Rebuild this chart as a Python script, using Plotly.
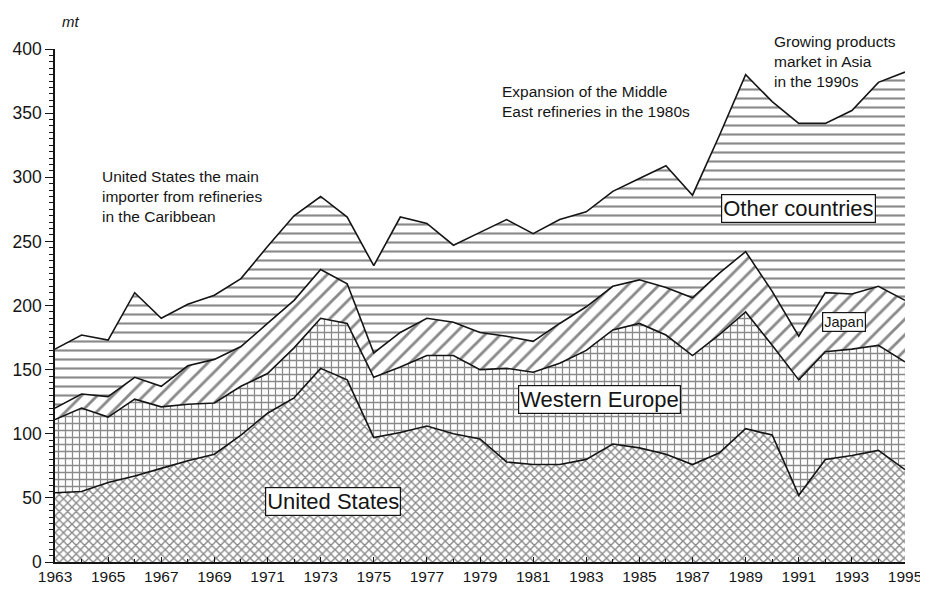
import plotly.graph_objects as go

years = list(range(1963, 1996))

# Values in million tonnes (mt) (individual layers)
united_states = [54, 55, 62, 67, 73, 79, 84, 99, 116, 128, 151, 142, 97, 101, 106, 100,
                 96, 78, 76, 76, 80, 92, 89, 84, 76, 85, 104, 99, 52, 80, 83, 87, 72]
western_europe = [57, 65, 51, 60, 48, 44, 40, 38, 31, 39, 39, 44, 47, 51, 55, 61,
                  54, 73, 72, 79, 85, 89, 97, 93, 85, 92, 91, 70, 90, 84, 83, 82, 84]
japan = [9, 11, 16, 17, 16, 30, 34, 31, 39, 37, 38, 31, 19, 27, 29, 26,
         29, 25, 24, 31, 34, 34, 34, 37, 45, 48, 47, 42, 34, 46, 43, 46, 48]
other_countries = [46, 46, 44, 66, 53, 48, 50, 53, 60, 66, 57, 52, 68, 90, 74, 60,
                   78, 91, 84, 81, 74, 74, 79, 95, 80, 107, 138, 148, 166, 132, 143, 159, 178]

x_tick_labels = [str(y) for y in range(1963, 1996, 2)]
y_tick_values = [0, 50, 100, 150, 200, 250, 300, 350, 400]

FONT = "Liberation Sans, Arial, sans-serif"
INK = "#151515"

fig = go.Figure()

series = [
    ("United States", united_states, "x", 6, 0.42),
    ("Western Europe", western_europe, "+", 7, 0.33),
    ("Japan", japan, "/", 11, 0.26),
    ("Other countries", other_countries, "-", 9, 0.24),
]
for name, vals, shape, size, sol in series:
    fig.add_trace(go.Scatter(
        x=years, y=vals, name=name, mode="lines",
        stackgroup="one",
        line=dict(color=INK, width=1.6),
        fillcolor="white",
        fillpattern=dict(shape=shape, fgcolor=INK, bgcolor="white",
                         size=size, solidity=sol),
        hoverinfo="x+y+name",
    ))

# the page body adds an 8px offset, so the figure is 8px smaller than the window
fig.update_layout(
    width=920, height=588,
    margin=dict(l=47, r=23, t=41, b=34),
    paper_bgcolor="white", plot_bgcolor="white",
    showlegend=False,
    font=dict(family=FONT, color=INK),
)

fig.update_xaxes(
    range=[1963, 1995], automargin=False,
    tickvals=list(range(1963, 1996, 2)), ticktext=x_tick_labels,
    showgrid=False, zeroline=False,
    showline=True, linecolor=INK, linewidth=1.5,
    ticks="inside", ticklen=5, tickcolor=INK,
    tickfont=dict(size=15.5, family=FONT, color=INK),
    minor=dict(dtick=1, ticks="inside", ticklen=3, tickcolor=INK),
)
fig.update_yaxes(
    range=[0, 400], automargin=False,
    tickvals=y_tick_values,
    showgrid=False, zeroline=False,
    showline=True, linecolor=INK, linewidth=1.5,
    ticks="outside", ticklen=8, tickcolor=INK,
    tickfont=dict(size=17.5, family=FONT, color=INK),
    minor=dict(dtick=5, ticks="outside", ticklen=4, tickcolor=INK),
)

annotations = [
    dict(xref="paper", yref="paper", x=0.006, y=1.074,
         text="<i>mt</i>", showarrow=False, xanchor="left", yanchor="top",
         font=dict(size=15)),
    dict(x=1964.69, y=309, text="United States the main<br>importer from refineries<br>in the Caribbean",
         showarrow=False, xanchor="left", yanchor="top", align="left",
         font=dict(size=15.5)),
    dict(x=1979.75, y=375, text="Expansion of the Middle<br>East refineries in the 1980s",
         showarrow=False, xanchor="left", yanchor="top", align="left",
         font=dict(size=15.5)),
    dict(x=1990.0, xref="x", yref="paper", y=1.035,
         text="Growing products<br>market in Asia<br>in the 1990s",
         showarrow=False, xanchor="left", yanchor="top", align="left",
         font=dict(size=15.5)),
]
boxed = [
    ("Other countries", 1991.0, 276, 22),
    ("Western Europe", 1983.5, 127, 22),
    ("United States", 1973.47, 47, 22),
    ("Japan", 1992.7, 187, 14.5),
]
for txt, xx, yy, fs in boxed:
    annotations.append(dict(
        x=xx, y=yy, text=txt, showarrow=False,
        bgcolor="white", bordercolor=INK, borderwidth=1.2, borderpad=1,
        font=dict(size=fs)))
fig.update_layout(annotations=annotations)

fig.write_html("out.html")
